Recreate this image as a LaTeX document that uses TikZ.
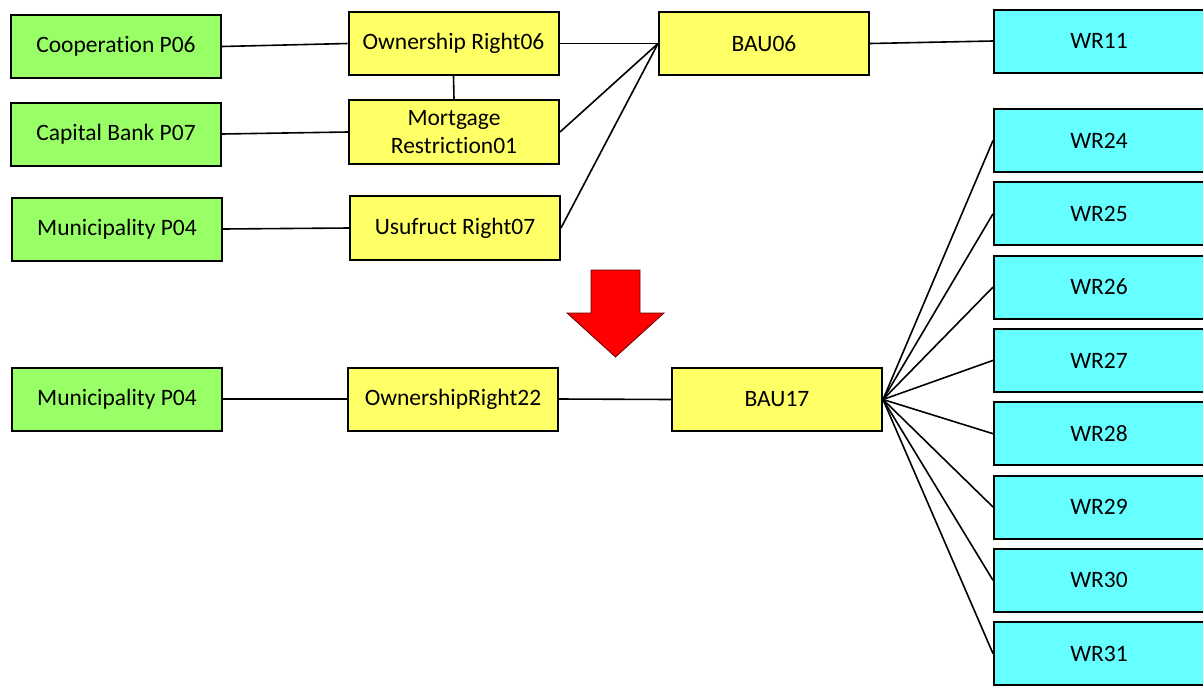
\documentclass[tikz,border=0pt]{standalone}
\usepackage{fontspec}
\setmainfont{Carlito}[Ligatures={NoCommon,NoContextual}]
\definecolor{boxgreen}{RGB}{153,255,102}
\definecolor{boxyellow}{RGB}{255,255,102}
\definecolor{boxcyan}{RGB}{102,255,255}
\tikzset{
  base/.style={draw=black, line width=2pt, minimum width=210pt, minimum height=63pt,
    inner sep=2pt, align=center, font=\fontsize{23.5}{28.3}\selectfont, text=black},
  gbox/.style={base, fill=boxgreen},
  ybox/.style={base, fill=boxyellow},
  cbox/.style={base, fill=boxcyan},
  conn/.style={draw=black, line width=1.6pt}
}
\begin{document}
\begin{tikzpicture}[x=1pt, y=-1pt]
\useasboundingbox (0,0) rectangle (1203,686);
% top group
\node[gbox] (coop) at (116,46.5) {Cooperation P06};
\node[gbox] (cap) at (116,134) {Capital Bank P07};
\node[gbox] (mun1) at (117,229) {Municipality P04};
\node[ybox] (own06) at (453.5,43.5) {Ownership Right06};
\node[ybox, minimum height=64pt] (mort) at (454,132) {Mortgage\\Restriction01};
\node[ybox, minimum height=64pt] (usu) at (455,228) {Usufruct Right07};
\node[ybox] (bau06) at (764,43.5) {BAU06};
\node[cbox] (wr11) at (1099,41) {WR11};
% bottom group
\node[gbox] (mun2) at (117,399) {Municipality P04};
\node[ybox] (own22) at (453,399) {OwnershipRight22};
\node[ybox] (bau17) at (777,399.5) {BAU17};
\foreach \n [count=\i from 0] in {24,25,26,27,28,29,30,31}{
  \node[cbox] (wr\n) at (1099,{140.5+73.3*\i}) {WR\n};
}
% connectors top
\draw[conn] (coop.east) -- (own06.west);
\draw[conn] (cap.east) -- (mort.west);
\draw[conn] (mun1.east) -- (usu.west);
\draw[conn] (own06.south) -- (mort.north);
\draw[conn] (own06.east) -- (bau06.west);
\draw[conn] (mort.east) -- (bau06.west);
\draw[conn] (usu.east) -- (bau06.west);
\draw[conn] (bau06.east) -- (wr11.west);
% connectors bottom
\draw[conn] (mun2.east) -- (own22.west);
\draw[conn] (own22.east) -- (bau17.west);
\foreach \n in {24,25,26,27,28,29,30,31}{
  \draw[conn] (bau17.east) -- (wr\n.west);
}
% red arrow
\draw[fill=red, draw=black!60!red, line width=0.8pt, line join=miter]
  (591,270) -- (640,270) -- (640,313) -- (664,313) -- (615.5,357) -- (567,313) -- (591,313) -- cycle;
\end{tikzpicture}
\end{document}
